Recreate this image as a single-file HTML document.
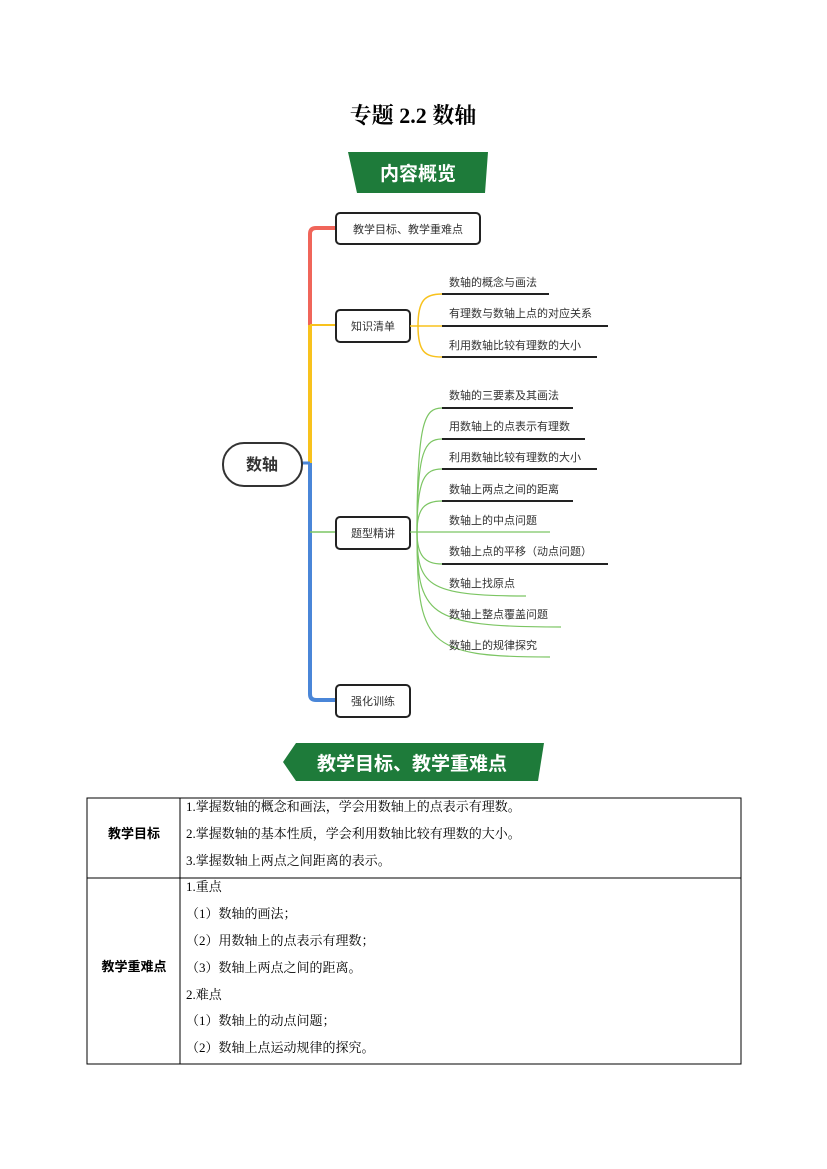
<!DOCTYPE html>
<html><head><meta charset="utf-8"><style>
body{margin:0;background:#fff;width:827px;height:1169px;overflow:hidden}
svg{display:block}
text{font-family:"Liberation Sans","Noto Sans CJK SC",sans-serif}
.t{font-size:11px;fill:#333}
.c{font-size:13px;fill:#000;font-family:"Liberation Serif","Noto Serif CJK SC",serif}
</style></head><body>
<svg width="827" height="1169" viewBox="0 0 827 1169">
<text x="413" y="123" text-anchor="middle" style="font-family:'Liberation Serif','Noto Serif CJK SC',serif;font-size:22px;font-weight:bold">专题 2.2  数轴</text>
<polygon points="348,152 488,152 485,193 357,193 352,170" fill="#1e7b3a"/>
<text x="418" y="180" text-anchor="middle" style="font-size:19px;font-weight:bold;fill:#fff">内容概览</text>
<path d="M336,228 H316 Q310,228 310,234 V325" stroke="#f0655a" stroke-width="4" fill="none"/>
<path d="M310,325 V463" stroke="#f8c21d" stroke-width="4" fill="none"/>
<path d="M310,325 H336" stroke="#f8c21d" stroke-width="2"/>
<path d="M310,463 V694 Q310,700 316,700 H336" stroke="#4a86d8" stroke-width="4" fill="none"/>
<path d="M302,463 H310" stroke="#4a86d8" stroke-width="3"/>
<path d="M310,532 H336" stroke="#7cc563" stroke-width="1.5"/>
<rect x="223" y="443" width="79" height="43" rx="21" fill="#fff" stroke="#333" stroke-width="2"/>
<text x="262" y="470" text-anchor="middle" style="font-size:16px;font-weight:bold;fill:#333">数轴</text>
<rect x="336" y="213" width="144" height="31" rx="4" fill="#fff" stroke="#222" stroke-width="2"/>
<text x="408" y="233" text-anchor="middle" class="t">教学目标、教学重难点</text>
<rect x="336" y="310" width="74" height="32" rx="4" fill="#fff" stroke="#222" stroke-width="2"/>
<text x="373" y="330" text-anchor="middle" class="t">知识清单</text>
<rect x="336" y="517" width="74" height="32" rx="4" fill="#fff" stroke="#222" stroke-width="2"/>
<text x="373" y="537" text-anchor="middle" class="t">题型精讲</text>
<rect x="336" y="685" width="74" height="32" rx="4" fill="#fff" stroke="#222" stroke-width="2"/>
<text x="373" y="705" text-anchor="middle" class="t">强化训练</text>
<g stroke="#f8c21d" stroke-width="1.5" fill="none">
<path d="M410,326 H418"/>
<path d="M418,326 C418,300 425,294 442,294"/>
<path d="M418,326 H442"/>
<path d="M418,326 C418,352 425,357 442,357"/>
</g>
<g stroke="#222" stroke-width="2">
<path d="M442,294 H549"/><path d="M442,326 H608"/><path d="M442,357 H597"/>
</g>
<text x="449" y="286" class="t">数轴的概念与画法</text>
<text x="449" y="317" class="t">有理数与数轴上点的对应关系</text>
<text x="449" y="349" class="t">利用数轴比较有理数的大小</text>
<g stroke="#7cc563" stroke-width="1.2" fill="none">
<path d="M410,532 H417"/>
<path d="M417,532 C417,420 425,408 442,408"/>
<path d="M417,532 C417,450 425,439 442,439"/>
<path d="M417,532 C417,478 425,469 442,469"/>
<path d="M417,532 C417,508 425,501 442,501"/>
<path d="M417,532 H550"/>
<path d="M417,532 C417,556 425,564 442,564"/>
<path d="M417,532 C417,585 425,596 526,596"/>
<path d="M417,532 C417,615 425,627 561,627"/>
<path d="M417,532 C417,645 425,657 550,657"/>
</g>
<g stroke="#222" stroke-width="2">
<path d="M442,408 H573"/><path d="M442,439 H585"/><path d="M442,469 H597"/><path d="M442,501 H573"/><path d="M442,564 H608"/>
</g>
<text x="449" y="399" class="t">数轴的三要素及其画法</text>
<text x="449" y="430" class="t">用数轴上的点表示有理数</text>
<text x="449" y="461" class="t">利用数轴比较有理数的大小</text>
<text x="449" y="493" class="t">数轴上两点之间的距离</text>
<text x="449" y="524" class="t">数轴上的中点问题</text>
<text x="449" y="555" class="t">数轴上点的平移（动点问题）</text>
<text x="449" y="587" class="t">数轴上找原点</text>
<text x="449" y="618" class="t">数轴上整点覆盖问题</text>
<text x="449" y="649" class="t">数轴上的规律探究</text>
<polygon points="296,743 544,743 538,781 296,781 283,762" fill="#1e7b3a"/>
<text x="412" y="770" text-anchor="middle" style="font-size:19px;font-weight:bold;fill:#fff">教学目标、教学重难点</text>
<rect x="87" y="798" width="654" height="266" fill="none" stroke="#000" stroke-width="1"/>
<path d="M87,878 H741 M180,798 V1064" stroke="#000" stroke-width="1"/>
<text x="134" y="838" text-anchor="middle" style="font-size:13px;font-weight:bold">教学目标</text>
<text x="134" y="971" text-anchor="middle" style="font-size:13px;font-weight:bold">教学重难点</text>
<text x="186" y="811" class="c">1.掌握数轴的概念和画法，学会用数轴上的点表示有理数。</text>
<text x="186" y="838" class="c">2.掌握数轴的基本性质，学会利用数轴比较有理数的大小。</text>
<text x="186" y="865" class="c">3.掌握数轴上两点之间距离的表示。</text>
<text x="186" y="891" class="c">1.重点</text>
<text x="186" y="918" class="c">（1）数轴的画法；</text>
<text x="186" y="945" class="c">（2）用数轴上的点表示有理数；</text>
<text x="186" y="972" class="c">（3）数轴上两点之间的距离。</text>
<text x="186" y="999" class="c">2.难点</text>
<text x="186" y="1025" class="c">（1）数轴上的动点问题；</text>
<text x="186" y="1052" class="c">（2）数轴上点运动规律的探究。</text>
</svg>
</body></html>
